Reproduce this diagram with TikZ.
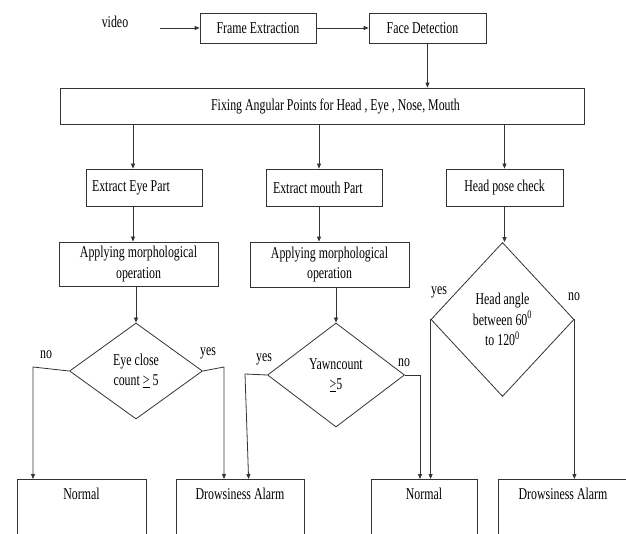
\documentclass[tikz,border=0pt]{standalone}
\usepackage{fontspec}
\setmainfont{Liberation Serif}[FakeStretch=0.72]
\usepackage{tikz}
\usetikzlibrary{shapes.geometric,arrows.meta}

\begin{document}
\begin{tikzpicture}[x=1pt,y=-1pt,
	font=\fontsize{16.5}{20.5}\selectfont,
	box/.style={draw=black!80,line width=0.8pt,rectangle,inner sep=0pt},
	cond/.style={draw=black!80,line width=0.8pt,diamond,inner sep=0pt,align=center},
	endbox/.style={box,anchor=north,text height=20pt,text depth=70pt},
	arr/.style={draw=black!80,line width=0.8pt,-{Triangle[length=5pt,width=4pt]}},
	lbl/.style={inner sep=0pt}]
			\clip (0,0) rectangle (626,534);
			% top row
			\node[lbl] (video) at (115,22) {video};
			\coordinate (vstart) at (160,28);
			\node[box,minimum width=116pt,minimum height=30pt] (frame) at (258,28) {Frame Extraction};
			\node[box,minimum width=117pt,minimum height=30pt] (face) at (427.5,28) {Face Detection\hspace*{10pt}};
			\node[box,minimum width=524pt,minimum height=36pt] (fixing) at (322,106) {\hspace*{27pt}Fixing Angular Points  for Head , Eye , Nose, Mouth};
	
			% three branches
			\node[box,minimum width=116pt,minimum height=37pt] (eye) at (144,187.5) {\makebox[104pt][l]{Extract Eye Part}};
			\node[box,minimum width=116pt,minimum height=37pt] (mouth) at (324,187.5) {\makebox[104pt][l]{\hspace*{1pt}Extract mouth  Part}};
			\node[box,minimum width=117pt,minimum height=37pt] (head) at (504.5,187.5) {Head pose check};
			\node[box,minimum width=159pt,minimum height=44pt,align=center] (morph1) at (138.5,264) {Applying morphological\\operation};
			\node[box,minimum width=159pt,minimum height=45pt,align=center] (morph2) at (329.5,264.5) {Applying morphological\\operation};
	
			% decisions
			\node[cond,minimum width=133pt,minimum height=96pt] (eyeD) at (136,371) {Eye close\\count \underline{>} 5};
			\node[cond,minimum width=137pt,minimum height=104pt] (yawnD) at (336,375) {Yawncount\\\underline{>}5};
			\node[cond,minimum width=143pt,minimum height=154pt] (headD) at (502.5,319.5) {Head angle\\between 60\textsuperscript{0}\\to 120\textsuperscript{0}};
	
			% results
			\node[endbox,minimum width=129pt] (normal1) at (81.5,479) {Normal};
			\node[endbox,minimum width=128pt] (drowsy1) at (240,479) {Drowsiness Alarm};
			\node[endbox,minimum width=106pt] (normal2) at (424,479) {Normal};
			\node[endbox,minimum width=130pt] (drowsy2) at (563,479) {Drowsiness Alarm};
	
			\draw[arr] (vstart) -- (frame.west);
			\draw[arr] (frame.east) -- (face.west);
			\draw[arr] (face.south) -- (face.south |- fixing.north);
			\draw[arr] ([xshift=-11pt]eye.north |- fixing.south) -- ([xshift=-11pt]eye.north);
			\draw[arr] ([xshift=-5pt]mouth.north |- fixing.south) -- ([xshift=-5pt]mouth.north);
			\draw[arr] (head.north |- fixing.south) -- (head.north);
			\draw[arr] ([xshift=-11pt]eye.south) -- ([xshift=-11pt]eye.south |- morph1.north);
			\draw[arr] ([xshift=-5pt]mouth.south) -- ([xshift=-5pt]mouth.south |- morph2.north);
			\draw[arr] (head.south) -- (head.south |- headD.north);
			\draw[arr] (morph1.south -| eyeD.north) -- (eyeD.north);
			\draw[arr] (morph2.south -| yawnD.north) -- (yawnD.north);
	
			\coordinate (eyeNo) at (33,367);
			\coordinate (eyeYes) at (224,367);
			\coordinate (yawnYes) at (245,374);
			\coordinate (yawnNo) at (420,375);
			\draw[arr] (eyeD.west) -- (eyeNo) -- (eyeNo |- normal1.north);
			\node[lbl] (eyeNoLbl) at (46,355) {no};
			\draw[arr] (eyeD.east) -- (eyeYes) -- (eyeYes |- drowsy1.north);
			\node[lbl] (eyeYesLbl) at (208,353) {yes};
			\draw[arr] (yawnD.west) -- (yawnYes) -- ([xshift=73pt]drowsy1.north west);
			\node[lbl] (yawnYesLbl) at (264,359) {yes};
			\draw[arr] (yawnD.east) -- (yawnNo) -- (yawnNo |- normal2.north);
			\node[lbl] (yawnNoLbl) at (404,363) {no};
			\draw[arr] (headD.west) -- (headD.west |- normal2.north);
			\node[lbl] (headYesLbl) at (439,292) {yes};
			\draw[arr] (headD.east) -- (headD.east |- drowsy2.north);
			\node[lbl] (headNoLbl) at (574,297) {no};
		\end{tikzpicture}
\end{document}
